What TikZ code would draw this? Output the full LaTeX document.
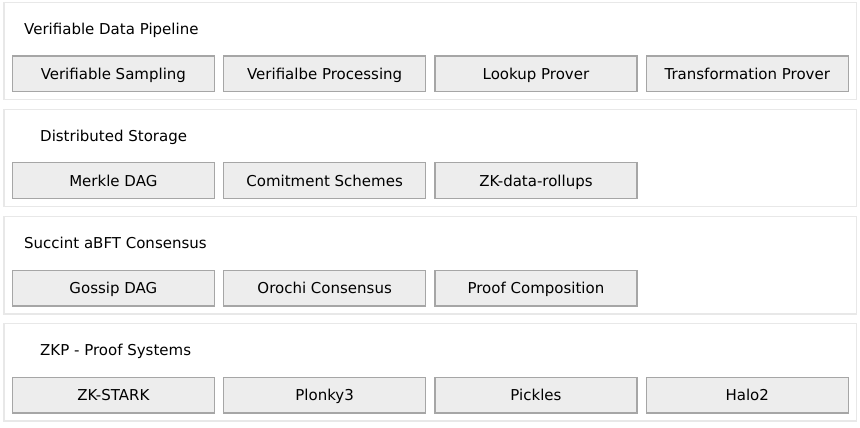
\documentclass[tikz,border=0pt]{standalone}
\usepackage{fontspec}
\setmainfont{DejaVu Sans}
\usetikzlibrary{positioning}
\tikzset{
	panelstyle/.style={rectangle,draw=black!9,fill=white,line width=1.2pt,minimum width=852.2pt,minimum height=97.3pt,inner sep=0,anchor=north west},
	titlestyle/.style={anchor=west,inner sep=0,text height=11pt,text depth=0pt,text=black},
	boxstyle/.style={rectangle,draw=black!35,fill=black!7,line width=1.3pt,minimum width=202pt,minimum height=35.7pt,inner sep=0,text height=11pt,text depth=0pt,text=black},
	rowstart/.style={boxstyle,anchor=north west}
}
\begin{document}
\begin{tikzpicture}[x=1pt,y=-1pt,node distance=8pt]
	\fontsize{15}{18}\selectfont
	\useasboundingbox (0,0) rectangle (860,428);
	% data pipeline
	\node[panelstyle] (pipeline) at (3.3,2) {};
	\node[titlestyle] (pipelinetitle) at (24,29) {Verifiable Data Pipeline};
	\node[rowstart] (sampling) at (11.7,55.5) {Verifiable Sampling};
	\node[boxstyle,right=of sampling] (processing) {Verifialbe Processing};
	\node[boxstyle,right=of processing] (lookup) {Lookup Prover};
	\node[boxstyle,right=of lookup] (transform) {Transformation Prover};
	% storage
	\node[panelstyle] (storage) at (3.3,108.5) {};
	\node[titlestyle] (storagetitle) at (40,136) {Distributed Storage};
	\node[rowstart] (merkle) at (11.7,162) {Merkle DAG};
	\node[boxstyle,right=of merkle] (commit) {Comitment Schemes};
	\node[boxstyle,right=of commit] (rollups) {ZK-data-rollups};
	% consensus
	\node[panelstyle] (consensus) at (3.3,216) {};
	\node[titlestyle] (consensustitle) at (24,243) {Succint aBFT Consensus};
	\node[rowstart] (gossip) at (11.7,269.5) {Gossip DAG};
	\node[boxstyle,right=of gossip] (orochi) {Orochi Consensus};
	\node[boxstyle,right=of orochi] (composition) {Proof Composition};
	% proof systems
	\node[panelstyle] (proofs) at (3.3,323) {};
	\node[titlestyle] (proofstitle) at (40,350) {ZKP - Proof Systems};
	\node[rowstart] (stark) at (11.7,376.5) {ZK-STARK};
	\node[boxstyle,right=of stark] (plonky) {Plonky3};
	\node[boxstyle,right=of plonky] (pickles) {Pickles};
	\node[boxstyle,right=of pickles] (halo) {Halo2};
\end{tikzpicture}
\end{document}
